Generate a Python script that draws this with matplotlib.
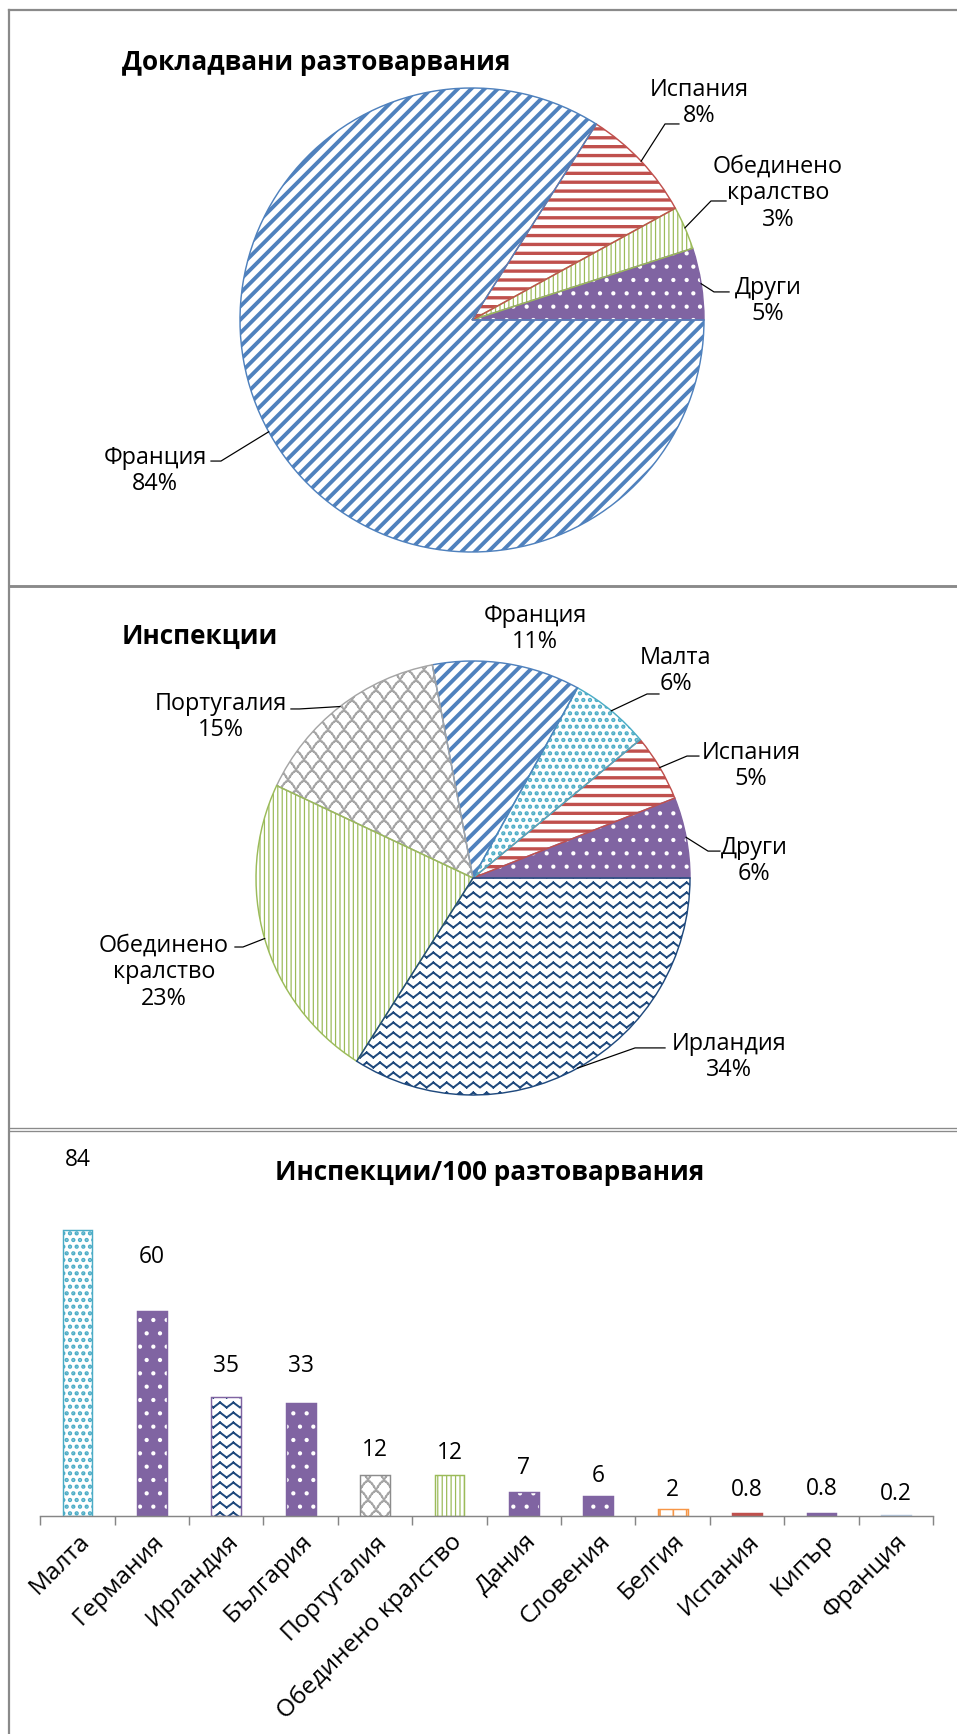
import warnings
import numpy as np
import matplotlib
matplotlib.use('Agg')
import matplotlib.pyplot as plt
import matplotlib.hatch as mhatch
import matplotlib.transforms as mtrans
from matplotlib.path import Path
from matplotlib.lines import Line2D

warnings.filterwarnings('ignore')

# ---- data ----
landings_names = ['Други', 'Обединено\nкралство', 'Испания', 'Франция']
landings_share = [5, 3, 8, 84]

insp_names = ['Други', 'Испания', 'Малта', 'Франция', 'Португалия',
              'Обединено\nкралство', 'Ирландия']
insp_share = [6, 5, 6, 11, 15, 23, 34]

rate_names = ['Малта', 'Германия', 'Ирландия', 'България', 'Португалия',
              'Обединено кралство', 'Дания', 'Словения', 'Белгия', 'Испания',
              'Кипър', 'Франция']
rate_values = [84, 60, 35, 33, 12, 12, 7, 6, 2, 0.8, 0.8, 0.2]


# ---- custom hatches: zigzag ('z'), fish scales ('w'), horizontal stripes ('h') ----
def put_segments(vertices, codes, k, xs, ys):
    for j in range(len(xs) - 1):
        vertices[k] = xs[j], ys[j]
        vertices[k + 1] = xs[j + 1], ys[j + 1]
        codes[k] = Path.MOVETO
        codes[k + 1] = Path.LINETO
        k += 2
    return k


class ZigZagHatch(mhatch.HatchPatternBase):
    def __init__(self, hatch, density):
        self.rows = hatch.count('z') * 8
        self.teeth = 6
        self.num_vertices = self.rows * self.teeth * 4

    def set_vertices_and_codes(self, vertices, codes):
        amp = 0.5 / self.rows
        xs = np.linspace(0, 1, 2 * self.teeth + 1)
        k = 0
        for i in range(self.rows):
            ys = (i + 0.25) / self.rows + amp * (np.arange(len(xs)) % 2)
            k = put_segments(vertices, codes, k, xs, ys)


class ScaleHatch(mhatch.HatchPatternBase):
    def __init__(self, hatch, density):
        self.rows = hatch.count('w') * 8
        self.arches = 5
        self.steps = 8
        self.num_vertices = self.rows * (self.arches + 1) * self.steps * 2

    def set_vertices_and_codes(self, vertices, codes):
        t = np.linspace(0, 1, self.steps + 1)
        k = 0
        for i in range(self.rows):
            shift = 0.5 * (i % 2) / self.arches
            for a in range(-1, self.arches):
                xs = (a + t) / self.arches + shift
                ys = (i + 0.9 * np.sin(np.pi * t)) / self.rows
                k = put_segments(vertices, codes, k, xs, ys)


class StripeHatch(mhatch.HatchPatternBase):
    def __init__(self, hatch, density):
        self.rows = hatch.count('h') * 9
        self.num_vertices = self.rows * 2

    def set_vertices_and_codes(self, vertices, codes):
        k = 0
        for i in range(self.rows):
            y = (i + 0.5) / self.rows
            k = put_segments(vertices, codes, k, [0, 1], [y, y])


mhatch._hatch_types.extend([ZigZagHatch, ScaleHatch, StripeHatch])

plt.rcParams['font.family'] = ['Open Sans', 'DejaVu Sans']
plt.rcParams['hatch.linewidth'] = 1.5

W, H, DPI = 957, 1734, 80
fig = plt.figure(figsize=(W / DPI, H / DPI), dpi=DPI)

BLUE, RED, GREEN, PURPLE = '#4F81BD', '#C0504D', '#9BBB59', '#8064A2'
CYAN, GRAY, NAVY, ORANGE = '#4BACC6', '#A5A5A5', '#1F497D', '#F79646'
PIE_FS = 21
VALUE_FS = 20.5
TICK_FS = 22
TITLE_FS = 23.5


def style_patch(p, face, hatch, hcol, hlw):
    p.set_facecolor(face)
    p.set_edgecolor(hcol)
    p.set_hatch(hatch)
    if hasattr(p, 'set_hatch_linewidth'):
        p.set_hatch_linewidth(hlw)
    draw0 = p.draw

    def draw(renderer, _d=draw0, _lw=hlw):
        with plt.rc_context({'hatch.linewidth': _lw}):
            _d(renderer)
    p.draw = draw


def pie_axes(cx, cy, r, L=1.7):
    return fig.add_axes([(cx - L * r) / W, (H - cy - L * r) / H,
                         2 * L * r / W, 2 * L * r / H])


def draw_pie(ax, values, styles):
    wedges, _ = ax.pie(values, startangle=0, counterclock=True,
                       wedgeprops=dict(linewidth=0))
    for w, (face, hatch, hcol, hlw, edge) in zip(wedges, styles):
        style_patch(w, face, hatch, hcol, hlw)
    outl, _ = ax.pie(values, startangle=0, counterclock=True,
                     wedgeprops=dict(fill=False, linewidth=1.3))
    for w, st in zip(outl, styles):
        w.set_edgecolor(st[4])
    ax.set_xlim(-1.7, 1.7)
    ax.set_ylim(-1.7, 1.7)
    ax.set_aspect('equal')
    ax.axis('off')
    return wedges


def pie_labels(ax, wedges, names, values, label_xy, elbows, ends):
    for w, n, v, (tx, ty), el, ex in zip(wedges, names, values, label_xy, elbows, ends):
        ax.text(tx, ty, f'{n}\n{v}%', ha='center', va='center',
                fontsize=PIE_FS, linespacing=1.15)
        if el is None:
            continue
        mid = np.deg2rad((w.theta1 + w.theta2) / 2)
        sx, sy = w.r * np.cos(mid), w.r * np.sin(mid)
        ax.plot([sx, el[0], ex], [sy, el[1], el[1]], color='black', lw=1.1)


# ---- pie 1: reported landings ----
ax1 = pie_axes(472, 320, 232)
st1 = [(PURPLE, '.', 'white', 1.4, PURPLE),
       ('white', '|||', GREEN, 1.1, GREEN),
       ('white', 'h', RED, 3.0, RED),
       ('white', '//', BLUE, 3.5, BLUE)]
w1 = draw_pie(ax1, landings_share, st1)
pie_labels(ax1, w1, landings_names, landings_share,
           [(1.276, 0.082), (1.319, 0.547), (0.978, 0.935), (-1.366, -0.651)],
           [(1.043, 0.121), (1.03, 0.513), (0.832, 0.845), (-1.082, -0.608)],
           [1.108, 1.095, 0.892, -1.125])

# ---- pie 2: inspections ----
ax2 = pie_axes(473, 878, 217)
st2 = [(PURPLE, '.', 'white', 1.4, PURPLE),
       ('white', 'h', RED, 3.0, RED),
       ('white', '..', CYAN, 2.6, CYAN),
       ('white', '//', BLUE, 3.5, BLUE),
       ('white', 'w', GRAY, 1.7, GRAY),
       ('white', '|||', GREEN, 1.1, GREEN),
       ('white', 'z', NAVY, 1.8, NAVY)]
w2 = draw_pie(ax2, insp_share, st2)
pie_labels(ax2, w2, insp_names, insp_share,
           [(1.295, 0.078), (1.281, 0.516), (0.935, 0.954), (0.286, 1.147),
            (-1.161, 0.742), (-1.424, -0.433), (1.18, -0.825)],
           [(1.083, 0.124), (0.986, 0.562), (0.802, 0.848), None,
            (-0.80, 0.779), (-1.06, -0.318), (0.747, -0.783)],
           [1.138, 1.041, 0.857, None, -0.839, -1.097, 0.885])

# ---- bar chart: inspections per 100 landings ----
ax3 = fig.add_axes([40.3 / W, (H - 1516) / H, 892.7 / W, 341 / H])
x = np.arange(len(rate_values))
bar_st = [('white', '..', CYAN, 2.6, CYAN),
          (PURPLE, '.', 'white', 1.4, PURPLE),
          ('white', 'z', NAVY, 1.8, PURPLE),
          (PURPLE, '.', 'white', 1.4, PURPLE),
          ('white', 'w', GRAY, 1.7, '#8C8C8C'),
          ('white', '|||', GREEN, 1.1, GREEN),
          (PURPLE, '.', 'white', 1.4, PURPLE),
          (PURPLE, '.', 'white', 1.4, PURPLE),
          ('white', '|', ORANGE, 1.5, ORANGE),
          (RED, '', RED, 1.0, RED),
          (PURPLE, '', PURPLE, 1.0, PURPLE),
          ('#B9CDE5', '', '#B9CDE5', 1.0, '#B9CDE5')]
bars = ax3.bar(x, rate_values, width=0.4, linewidth=0)
for b, (face, hatch, hcol, hlw, edge) in zip(bars, bar_st):
    style_patch(b, face, hatch, hcol, hlw)
ax3.bar(x, rate_values, width=0.4, fill=False, linewidth=1.3,
        edgecolor=[s[4] for s in bar_st])

label_y = [104.3, 76, 44, 44, 19.4, 18.5, 14.2, 11.6, 7.6, 7.6, 8, 6.5]
for i, v in enumerate(rate_values):
    ax3.text(i, label_y[i], f'{v:g}', ha='center', va='center', fontsize=VALUE_FS)

ax3.set_xlim(-0.5, len(rate_values) - 0.5)
ax3.set_ylim(0, 100)
for s in ['left', 'right', 'top']:
    ax3.spines[s].set_visible(False)
ax3.spines['bottom'].set_color('#868686')
ax3.spines['bottom'].set_linewidth(1.3)
ax3.set_yticks([])
ax3.set_xticks(x)
ax3.set_xticklabels(rate_names, rotation=45, ha='right', va='top',
                    rotation_mode='anchor', fontsize=TICK_FS)
shift = mtrans.ScaledTranslation(6 / DPI, 0, fig.dpi_scale_trans)
for lab in ax3.get_xticklabels():
    lab.set_transform(lab.get_transform() + shift)
ax3.set_xticks(np.arange(-0.5, len(rate_values)), minor=True)
ax3.tick_params(axis='x', which='major', length=0, pad=12)
ax3.tick_params(axis='x', which='minor', length=8, width=1.3, color='#868686',
                direction='out')

# ---- titles ----
fig.text(122 / W, 1 - 63 / H, 'Докладвани разтоварвания', ha='left', va='center',
         fontsize=TITLE_FS, fontweight='bold')
fig.text(122 / W, 1 - 636 / H, 'Инспекции', ha='left', va='center',
         fontsize=TITLE_FS, fontweight='bold')
fig.text(489.5 / W, 1 - 1172 / H, 'Инспекции/100 разтоварвания', ha='center',
         va='center', fontsize=TITLE_FS, fontweight='bold')

# ---- panel borders ----
BORDER = '#8A8A8A'


def hline(y, lw):
    fig.add_artist(Line2D([9 / W, 1], [1 - y / H, 1 - y / H], color=BORDER, lw=lw))


hline(10, 2.0)
hline(586, 2.6)
hline(1127.5, 1.2)
hline(1131, 1.2)
fig.add_artist(Line2D([9 / W, 9 / W], [0, 1 - 10 / H], color=BORDER, lw=2.0))

fig.savefig('out.png', dpi=DPI, facecolor='white')
